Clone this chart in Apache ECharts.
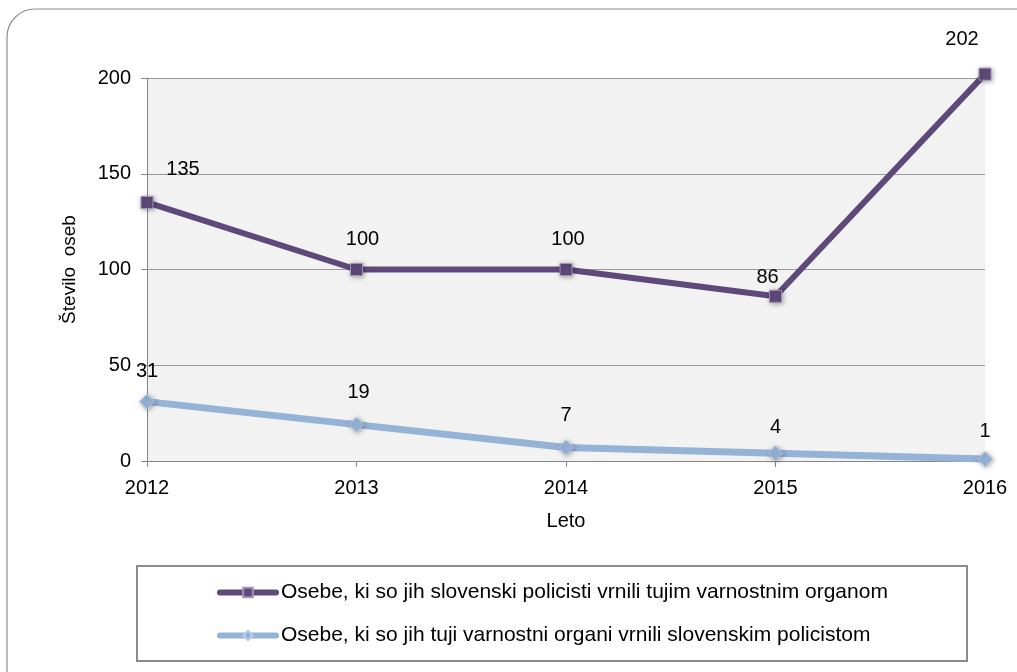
<!DOCTYPE html>
<html>
<head>
<meta charset="utf-8">
<script src="https://cdn.jsdelivr.net/npm/echarts@6/dist/echarts.min.js"></script>
<style>
html, body { margin: 0; padding: 0; background: #fff; }
#mainchart { width: 1017px; height: 672px; }
</style>
</head>
<body>
<div id="mainchart"></div>
<script>
var years = ['2012', '2013', '2014', '2015', '2016'];
var vrnjeniTujim = [135, 100, 100, 86, 202];
var vrnjeniSlovenskim = [31, 19, 7, 4, 1];
var seriesNames = [
	'Osebe, ki so jih slovenski policisti vrnili tujim varnostnim organom',
	'Osebe, ki so jih tuji varnostni organi vrnili slovenskim policistom'
];
// premiki oznak (samo postavitev)
var offsetsTujim = [[36, -2], [6, 0], [2, 0], [-8, 12], [-23, -4]];
var offsetsSlov = [[0, 0], [2, -2], [0, -2], [0, 4], [0, 2]];

function withOffsets(values, offsets) {
	var out = [];
	for (var i = 0; i < values.length; i++) {
		out.push({ value: values[i], label: { offset: offsets[i] } });
	}
	return out;
}

var chart = echarts.init(document.getElementById('mainchart'));
var font = 'Liberation Sans, Arial, sans-serif';

var option = {
	animation: false,
	textStyle: { fontFamily: font },
	graphic: [{
		type: 'rect',
		z: -10,
		shape: { x: 7, y: 9, width: 1040, height: 690, r: 28 },
		style: { fill: '#fff', stroke: '#8c8c8c', lineWidth: 1.2 }
	}, {
		type: 'rect',
		z: -5,
		shape: { x: 137, y: 566, width: 830, height: 95 },
		style: { fill: '#fff', stroke: '#8a8a8a', lineWidth: 2 }
	}],
	grid: {
		left: 147, right: 32, top: 78, bottom: 211,
		show: true, backgroundColor: '#f2f2f2', borderWidth: 0
	},
	legend: {
		orient: 'vertical',
		left: 212,
		top: 577,
		itemWidth: 56,
		itemHeight: 12,
		itemGap: 22,
		lineStyle: { width: 6, cap: 'round' },
		textStyle: { fontSize: 21, color: '#000', fontFamily: font },
		data: seriesNames
	},
	xAxis: {
		type: 'category',
		boundaryGap: false,
		data: years,
		name: 'Leto',
		nameLocation: 'middle',
		nameGap: 50,
		nameTextStyle: { fontSize: 20, color: '#000' },
		axisLine: { lineStyle: { color: '#868686', width: 1 } },
		axisTick: { show: true, length: 6, alignWithLabel: true, lineStyle: { color: '#868686' } },
		axisLabel: { fontSize: 20, color: '#000', margin: 17 },
		splitLine: { show: false }
	},
	yAxis: {
		type: 'value',
		min: 0, max: 200, interval: 50,
		name: 'Število  oseb',
		nameLocation: 'middle',
		nameGap: 68,
		nameTextStyle: { fontSize: 19, color: '#000' },
		axisLine: { show: true, lineStyle: { color: '#868686', width: 1 } },
		axisTick: { show: true, length: 6, lineStyle: { color: '#868686' } },
		axisLabel: { fontSize: 20, color: '#000', margin: 16 },
		splitLine: { lineStyle: { color: '#9a9a9a', width: 1 } }
	},
	series: [{
		name: seriesNames[0],
		type: 'line',
		clip: false,
		data: withOffsets(vrnjeniTujim, offsetsTujim),
		symbol: 'rect',
		symbolSize: 12,
		lineStyle: { color: '#5f497a', width: 6 },
		itemStyle: {
			color: '#5f497a', borderColor: '#a093b3', borderWidth: 1,
			shadowBlur: 5, shadowColor: 'rgba(0,0,0,0.35)', shadowOffsetX: 1, shadowOffsetY: 1
		},
		label: { show: true, position: 'top', distance: 14, fontSize: 20, color: '#000' }
	}, {
		name: seriesNames[1],
		type: 'line',
		clip: false,
		data: withOffsets(vrnjeniSlovenskim, offsetsSlov),
		symbol: 'diamond',
		symbolSize: 15,
		lineStyle: { color: '#95b3d7', width: 7 },
		itemStyle: {
			color: '#95b3d7', borderColor: '#b9cde6', borderWidth: 1,
			shadowBlur: 5, shadowColor: 'rgba(0,0,0,0.35)', shadowOffsetX: 1, shadowOffsetY: 1
		},
		label: { show: true, position: 'top', distance: 12, fontSize: 20, color: '#000' }
	}]
};
chart.setOption(option);
</script>
</body>
</html>
